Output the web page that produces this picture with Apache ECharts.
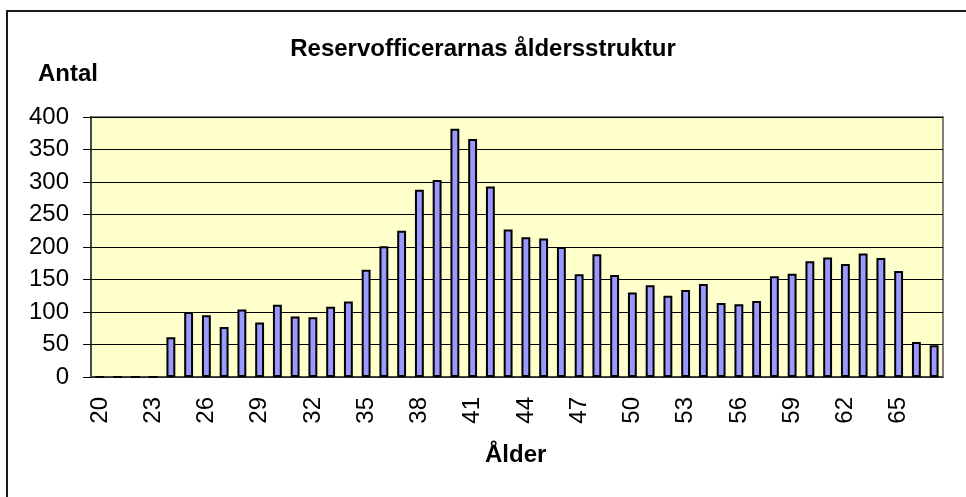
<!DOCTYPE html>
<html>
<head>
<meta charset="utf-8">
<script src="https://cdn.jsdelivr.net/npm/echarts@6/dist/echarts.min.js"></script>
<style>
html,body{margin:0;padding:0;background:#fff;}
#c{width:966px;height:497px;}
</style>
</head>
<body>
<div id="c"></div>
<script>
const ages = ['20','21','22','23','24','25','26','27','28','29','30','31','32','33','34','35','36','37','38','39','40','41','42','43','44','45','46','47','48','49','50','51','52','53','54','55','56','57','58','59','60','61','62','63','64','65','66','67'];
const antal = [0,0,0,0,61,100,95,77,104,84,111,93,92,108,116,165,201,225,288,303,382,366,293,227,215,213,200,158,189,157,130,141,125,134,143,114,112,117,155,159,178,184,174,190,183,163,54,49];
const yTicks = [0,50,100,150,200,250,300,350,400];

const chart = echarts.init(document.getElementById('c'));
const font = 'Liberation Sans, Arial, sans-serif';
chart.setOption({
  animation:false,
  backgroundColor:'#ffffff',
  graphic:[
    {type:'rect', shape:{x:7,y:11,width:2000,height:2000}, style:{fill:'none',stroke:'#1a1a1a',lineWidth:2}, z:-1},
    {type:'text', left:38, top:62, style:{text:'Antal', font:'bold 24px '+font, fill:'#000'}},
    {type:'text', left:485, top:443, style:{text:'Ålder', font:'bold 24px '+font, fill:'#000'}}
  ],
  title:{
    text:'Reservofficerarnas åldersstruktur',
    left:'center', top:32,
    textStyle:{fontFamily:font, fontWeight:'bold', fontSize:24, color:'#000'}
  },
  grid:{left:91, top:117, right:23, bottom:120, show:true, backgroundColor:'#FFFFCC', borderColor:'#808080', borderWidth:2},
  xAxis:{
    type:'category', data:ages, boundaryGap:true,
    axisLine:{lineStyle:{color:'#333',width:1.5}},
    axisTick:{interval:0, length:8, lineStyle:{color:'#000'}},
    axisLabel:{interval:2, rotate:90, margin:20, fontFamily:font, fontSize:24, color:'#000'}
  },
  yAxis:{
    type:'value', min:yTicks[0], max:yTicks[yTicks.length-1], interval:50,
    axisLine:{show:true, lineStyle:{color:'#333',width:1.5}},
    axisTick:{show:true, length:8, lineStyle:{color:'#000'}},
    axisLabel:{margin:22, fontFamily:font, fontSize:24, color:'#000'},
    splitLine:{lineStyle:{color:'#000',width:1}}
  },
  series:[{
    type:'bar', data:antal, barWidth:'50%',
    itemStyle:{color:'#9999FF', borderColor:'#000', borderWidth:2}
  }]
});
</script>
</body>
</html>
